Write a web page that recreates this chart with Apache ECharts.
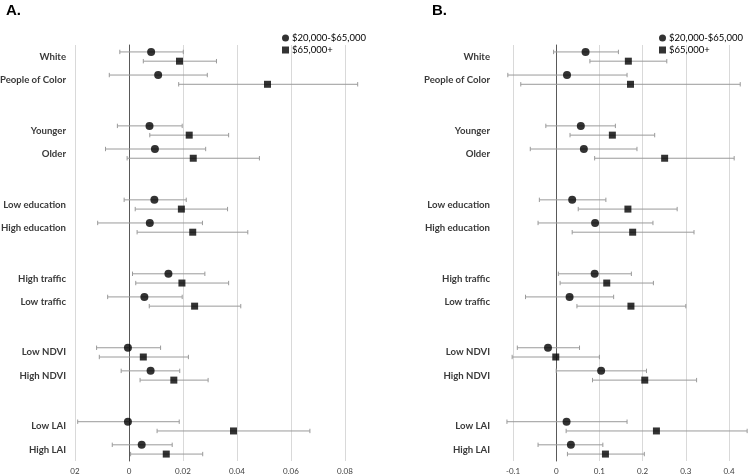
<!DOCTYPE html>
<html><head><meta charset="utf-8">
<script src="https://cdn.jsdelivr.net/npm/echarts@6/dist/echarts.min.js"></script>
<style>html,body{margin:0;padding:0;background:#fff}#c{width:750px;height:474px}</style>
</head><body><div id="c"></div>
<script>
// ---------- DATA ----------
const categories = ['White','People of Color','Younger','Older','Low education','High education',
  'High traffic','Low traffic','Low NDVI','High NDVI','Low LAI','High LAI'];
const seriesNames = ['$20,000-$65,000','$65,000+'];

// Panel A
const aLowEst  = [0.0082, 0.0108, 0.0076, 0.0096, 0.0094, 0.0077, 0.0146, 0.0057, -0.0004, 0.0080, -0.0004, 0.0047];
const aLowLo   = [-0.0034,-0.0073,-0.0043,-0.0087,-0.0018,-0.0116, 0.0013,-0.0079,-0.0120,-0.0029,-0.0190,-0.0062];
const aLowHi   = [0.0201, 0.0290, 0.0197, 0.0284, 0.0212, 0.0272, 0.0281, 0.0197, 0.0117, 0.0188, 0.0186, 0.0160];
const aHighEst = [0.0187, 0.0513, 0.0223, 0.0238, 0.0194, 0.0236, 0.0196, 0.0243, 0.0053, 0.0166, 0.0387, 0.0138];
const aHighLo  = [0.0053, 0.0184, 0.0077,-0.0007, 0.0023, 0.0030, 0.0025, 0.0075,-0.0110, 0.0041, 0.0104, 0.0006];
const aHighHi  = [0.0324, 0.0847, 0.0369, 0.0483, 0.0365, 0.0440, 0.0369, 0.0414, 0.0220, 0.0293, 0.0670, 0.0273];
const aTicks   = ['02','0','0.02','0.04','0.06','0.08'];

// Panel B
const bLowEst  = [0.068, 0.025, 0.057, 0.064, 0.037, 0.090, 0.089, 0.031,-0.019, 0.104, 0.024, 0.034];
const bLowLo   = [-0.006,-0.112,-0.024,-0.060,-0.039,-0.042, 0.005,-0.071,-0.090, 0.000,-0.114,-0.042];
const bLowHi   = [0.144, 0.164, 0.137, 0.187, 0.115, 0.224, 0.174, 0.133, 0.054, 0.209, 0.164, 0.108];
const bHighEst = [0.167, 0.172, 0.130, 0.251, 0.166, 0.177, 0.117, 0.173,-0.001, 0.205, 0.232, 0.114];
const bHighLo  = [0.078,-0.082, 0.032, 0.089, 0.051, 0.037, 0.009, 0.048,-0.102, 0.084, 0.023, 0.026];
const bHighHi  = [0.256, 0.426, 0.228, 0.412, 0.280, 0.319, 0.225, 0.300, 0.100, 0.325, 0.442, 0.204];
const bTicks   = ['-0.1','0','0.1','0.2','0.3','0.4'];

// ---------- LAYOUT (row slots) ----------
const NSLOTS = 90;
function circleSlot(i){ return 1 + 16*Math.floor(i/2) + 5*(i%2); }
function squareSlot(i){ return circleSlot(i) + 2; }
function labelSlot(i){ return circleSlot(i) + 1; }
const rows = new Array(NSLOTS).fill('');
categories.forEach((c,i)=>{ rows[labelSlot(i)] = c; });

const FONT = 'Lato, "Open Sans", sans-serif';
const ERR = '#9a9a9a';

function errSeries(gi, lo, hi, slotFn){
  return {
    type:'custom', xAxisIndex:gi, yAxisIndex:gi, clip:false, z:2, silent:true,
    data: lo.map((v,i)=>[slotFn(i), v, hi[i]]),
    encode:{x:[1,2], y:0},
    renderItem:function(params, api){
      const y = api.value(0);
      const p1 = api.coord([api.value(1), y]);
      const p2 = api.coord([api.value(2), y]);
      const h = 2.2;
      const st = {stroke:ERR, lineWidth:1};
      return {type:'group', children:[
        {type:'line', shape:{x1:p1[0],y1:p1[1],x2:p2[0],y2:p2[1]}, style:st},
        {type:'line', shape:{x1:p1[0],y1:p1[1]-h,x2:p1[0],y2:p1[1]+h}, style:st},
        {type:'line', shape:{x1:p2[0],y1:p2[1]-h,x2:p2[0],y2:p2[1]+h}, style:st}
      ]};
    }
  };
}
function ptSeries(gi, name, est, slotFn, symbol, size){
  return {
    type:'scatter', name:name, xAxisIndex:gi, yAxisIndex:gi, z:5,
    symbol:symbol, symbolSize:size, itemStyle:{color:'#000'},
    data: est.map((v,i)=>[v, slotFn(i)])
  };
}
function xAx(gi, min, max, interval, ticks){
  return {
    type:'value', gridIndex:gi, min:min, max:max, interval:interval,
    axisLine:{show:false}, axisTick:{show:false},
    splitLine:{show:true, lineStyle:{color:'#d9d9d9', width:1}},
    axisLabel:{fontFamily:FONT, fontSize:8, color:'#404040', margin:6,
      formatter:function(v){ return ticks[Math.round((v-min)/interval)]; }}
  };
}
function yAx(gi, margin){
  return {
    type:'category', gridIndex:gi, data:rows, inverse:true, boundaryGap:true,
    axisLine:{show:true, onZero:true, lineStyle:{color:'#595959', width:1}},
    axisTick:{show:false}, splitLine:{show:false},
    axisLabel:{interval:0, margin:margin, fontFamily:FONT, fontWeight:'bold', fontSize:9.6, color:'#3a3a3a'}
  };
}
function legend(left){
  return {
    orient:'vertical', left:left, top:28, itemWidth:7, itemHeight:7, itemGap:2,
    textStyle:{fontFamily:FONT, fontSize:9.5, color:'#000', padding:[0,0,0,-2]},
    data:[{name:seriesNames[0], icon:'circle'},{name:seriesNames[1], icon:'rect'}],
    selectedMode:false
  };
}

const chart = echarts.init(document.getElementById('c'), null, {renderer:'canvas'});
chart.setOption({
  animation:false,
  backgroundColor:'#fff',
  grid:[
    {left:75, top:45, width:270, height:416, containLabel:false, outerBoundsMode:'none'},
    {left:513, top:45, width:216, height:416, containLabel:false, outerBoundsMode:'none'}
  ],
  xAxis:[ xAx(0, -0.02, 0.08, 0.02, aTicks), xAx(1, -0.1, 0.4, 0.1, bTicks) ],
  yAxis:[ yAx(0, 9), yAx(1, 23) ],
  legend:[ legend(277), legend(654) ],
  graphic:[
    {type:'text', left:6, top:3, style:{text:'A.', font:'bold 15px "Liberation Sans", Arial, sans-serif', fill:'#000'}},
    {type:'text', left:432, top:3, style:{text:'B.', font:'bold 15px "Liberation Sans", Arial, sans-serif', fill:'#000'}}
  ],
  series:[
    errSeries(0, aLowLo, aLowHi, circleSlot),
    errSeries(0, aHighLo, aHighHi, squareSlot),
    ptSeries(0, seriesNames[0], aLowEst, circleSlot, 'circle', 8),
    ptSeries(0, seriesNames[1], aHighEst, squareSlot, 'rect', 7),
    errSeries(1, bLowLo, bLowHi, circleSlot),
    errSeries(1, bHighLo, bHighHi, squareSlot),
    ptSeries(1, seriesNames[0], bLowEst, circleSlot, 'circle', 8),
    ptSeries(1, seriesNames[1], bHighEst, squareSlot, 'rect', 7)
  ]
});
</script>
</body></html>
